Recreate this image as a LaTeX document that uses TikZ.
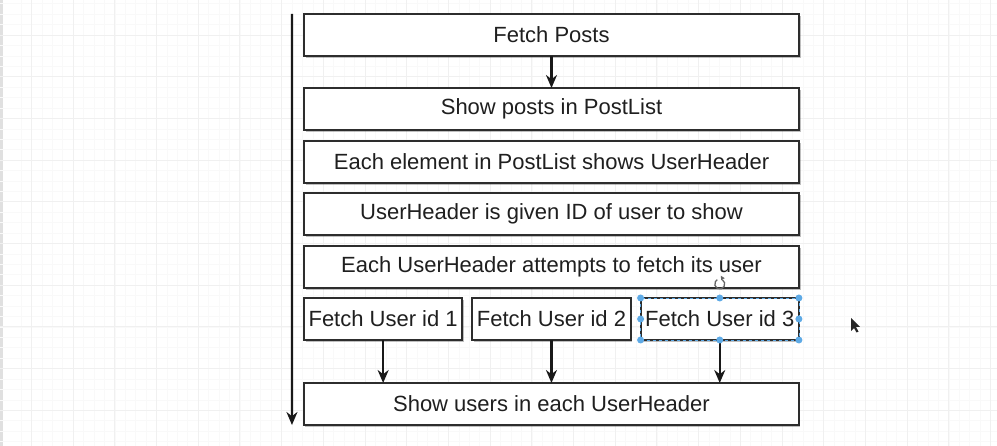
\documentclass[tikz,border=0pt]{standalone}
\usepackage{fontspec}
\setmainfont{Liberation Sans}
\usetikzlibrary{arrows.meta,shadows,positioning}
\definecolor{gridminor}{RGB}{249,249,249}
\definecolor{gridmajor}{RGB}{240,240,240}
\definecolor{boxline}{RGB}{45,45,45}
\definecolor{handleblue}{RGB}{94,170,230}
\tikzset{
  stepbox/.style={draw=boxline, line width=1.8pt, fill=white, inner sep=0pt, outer sep=0pt,
    minimum height=42pt, text=black!88, font=\fontsize{22}{26}\selectfont,
    drop shadow={shadow xshift=1.5pt, shadow yshift=-2pt, opacity=0.25, fill=black}},
  widebox/.style={stepbox, minimum width=495pt},
  userbox/.style={stepbox, minimum width=158.3pt},
  flow/.style={-{Stealth[length=13pt,width=11pt]}, line width=2.1pt, black!90},
  handle/.style={circle, fill=handleblue, inner sep=0pt, minimum size=7pt}
}

\begin{document}
\begin{tikzpicture}[x=1pt,y=-1pt]
      \fill[white] (0,0) rectangle (997,446);
      \useasboundingbox (0,0) rectangle (997,446);
      \fill[black!12] (0,0) rectangle (2.5,446);

      \foreach \k in {-1,...,96} {
        \draw[gridminor, line width=0.6pt] ({31.4+10.425*\k},0) -- ++(0,446);
      }
      \foreach \k in {-1,...,44} {
        \draw[gridminor, line width=0.6pt] (0,{-6.7+10.425*\k}) -- ++(997,0);
      }
      \foreach \k in {0,...,23} {
        \draw[gridmajor, line width=0.9pt] ({31.4+41.7*\k},0) -- ++(0,446);
      }
      \foreach \k in {0,...,11} {
        \draw[gridmajor, line width=0.9pt] (0,{-6.7+41.7*\k}) -- ++(997,0);
      }

      \node [widebox] (fetch) at (551.5,35) {Fetch Posts};
      \node [widebox, below=32pt of fetch] (posts) {Show posts in PostList};
      \node [widebox, below=11pt of posts] (element) {Each element in PostList shows UserHeader};
      \node [widebox, below=10pt of element] (given) {UserHeader is given ID of user to show};
      \node [widebox, below=11pt of given] (attempts) {Each UserHeader attempts to fetch its user};

      \node [userbox, anchor=north west] (user1) at ([yshift=-10pt]attempts.south west) {Fetch User id 1};
      \node [userbox, right=10pt of user1] (user2) {Fetch User id 2};
      \node [userbox, right=10pt of user2] (user3) {Fetch User id 3};

      \node [widebox, below=43pt of user2] (showusers) {Show users in each UserHeader};

      \coordinate (timetop) at ([xshift=-12pt]fetch.north west);
      \coordinate (timebot) at ([xshift=-12pt]showusers.south west);
      \draw [flow] (timetop) -- (timebot);

      \draw [flow] (fetch) -- (posts);
      \draw [flow] (user1) -- (user1 |- showusers.north);
      \draw [flow] (user2) -- (user2 |- showusers.north);
      \draw [flow] (user3) -- (user3 |- showusers.north);

      \draw [handleblue, line width=0.8pt, dashed] (user3.north west) rectangle (user3.south east);
      \foreach \a in {north west,north,north east,west,east,south west,south,south east} {
        \node [handle] at (user3.\a) {};
      }
      \coordinate (rotmark) at ([yshift=14pt]user3.north);
      \draw [black!60, line width=1.3pt] (rotmark) ++(-60:5) arc (-60:240:5);
      \fill [black!60] (rotmark) ++(-60:5) ++(2.5,-1.5) -- ++(-4,-2.5) -- ++(0.5,4.5) -- cycle;

      \fill [black!85] (851,318) -- (851,331) -- (854,328) -- (856.5,332.5) -- (858.5,331.5) -- (856,327) -- (860,327) -- cycle;
    \end{tikzpicture}
\end{document}
